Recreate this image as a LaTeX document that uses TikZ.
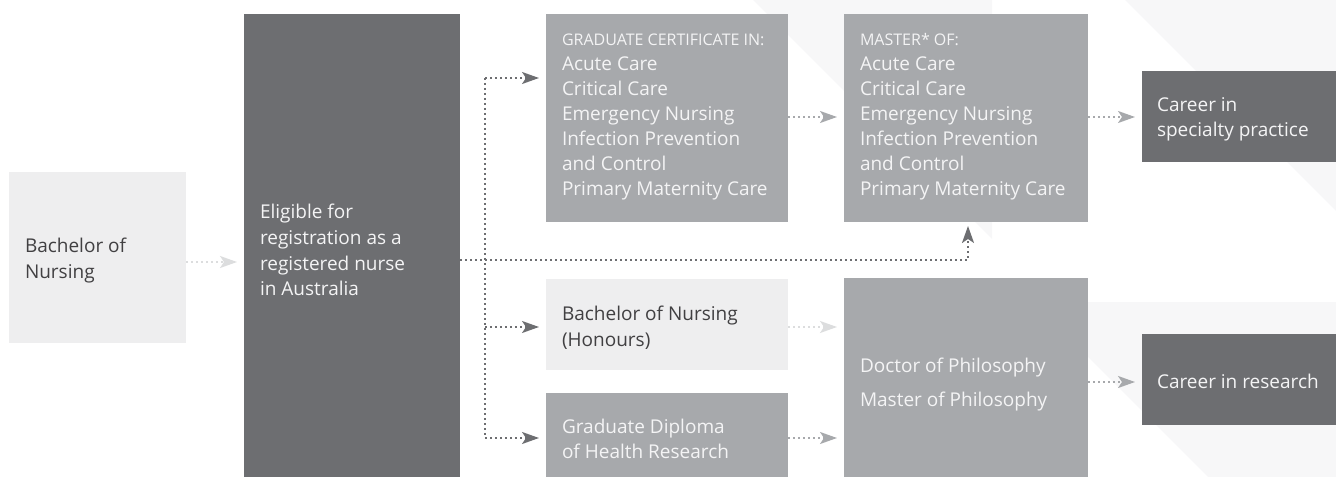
\documentclass[tikz,border=0pt]{standalone}
\usepackage{fontspec}
\setmainfont{Open Sans}
\usetikzlibrary{arrows.meta}
\definecolor{dkbox}{HTML}{6D6E71}
\definecolor{mdbox}{HTML}{A7A9AC}
\definecolor{ltbox}{HTML}{EEEEEF}
\definecolor{bgshape}{HTML}{F7F7F8}
\definecolor{dktext}{HTML}{414042}
\definecolor{lttext}{HTML}{F4F4F5}
\definecolor{ltarrow}{HTML}{DCDDDE}
\newcommand{\lns}[2]{\vtop{\baselineskip=#1bp\lineskiplimit=-100bp\relax #2}}
\tikzset{
  bx/.style={draw=none, inner sep=0pt, outer sep=0pt, anchor=north west},
  tx/.style={inner sep=0pt, outer sep=0pt, anchor=base west, font=\fontsize{19bp}{25bp}\selectfont},
  hd/.style={inner sep=0pt, outer sep=0pt, anchor=base west, font=\fontsize{16bp}{18bp}\selectfont},
  conn/.style={line width=1.9bp, dash pattern=on 1.9bp off 3.1bp},
  arr/.style={conn, -{Stealth[length=17bp,width=12bp,inset=4bp]}, shorten >=7bp}
}
\begin{document}
\begin{tikzpicture}[x=1bp,y=-1bp]
\useasboundingbox (0,0) rectangle (1336,477);
% faint background shapes
\fill[bgshape] (753,0) -- (992,0) -- (992,239) -- cycle;
\fill[bgshape] (1125,0) -- (1336,0) -- (1336,211) -- cycle;
\fill[bgshape] (1088,302) -- (1336,302) -- (1336,477) -- (1208,477) -- (1088,357) -- cycle;

% boxes
\node[bx, fill=ltbox, minimum width=177bp, minimum height=171bp] (bon) at (9,172) {};
\node[bx, fill=dkbox, minimum width=216bp, minimum height=463bp] (elig) at (244,14) {};
\node[bx, fill=mdbox, minimum width=242bp, minimum height=208bp] (gc) at (546,14) {};
\node[bx, fill=mdbox, minimum width=244bp, minimum height=208bp] (ms) at (844,14) {};
\node[bx, fill=dkbox, minimum width=194bp, minimum height=91bp] (csp) at (1142,71) {};
\node[bx, fill=ltbox, minimum width=242bp, minimum height=91bp] (hon) at (546,279) {};
\node[bx, fill=mdbox, minimum width=242bp, minimum height=84bp] (gd) at (546,393) {};
\node[bx, fill=mdbox, minimum width=244bp, minimum height=199bp] (phd) at (844,278) {};
\node[bx, fill=dkbox, minimum width=194bp, minimum height=91bp] (cre) at (1142,334) {};

% texts
\node[tx, text=dktext] (bont) at (25,253) {\lns{25}{\hbox{Bachelor of}\hbox{Nursing}}};
\node[tx, text=lttext] (eligt) at (260,219) {\lns{25.5}{\hbox{Eligible for}\hbox{registration as a}\hbox{registered nurse}\hbox{in Australia}}};
\node[hd, text=lttext] (gch) at (562,46) {GRADUATE CERTIFICATE IN:};
\node[tx, text=lttext] (gct) at (562,71) {\lns{25}{\hbox{Acute Care}\hbox{Critical Care}\hbox{Emergency Nursing}\hbox{Infection Prevention}\hbox{and Control}\hbox{Primary Maternity Care}}};
\node[hd, text=lttext] (msh) at (860,46) {MASTER* OF:};
\node[tx, text=lttext] (mst) at (860,71) {\lns{25}{\hbox{Acute Care}\hbox{Critical Care}\hbox{Emergency Nursing}\hbox{Infection Prevention}\hbox{and Control}\hbox{Primary Maternity Care}}};
\node[tx, text=lttext] (cspt) at (1157,112) {\lns{25}{\hbox{Career in}\hbox{specialty practice}}};
\node[tx, text=dktext] (hont) at (562,320) {\lns{26}{\hbox{Bachelor of Nursing}\hbox{(Honours)}}};
\node[tx, text=lttext] (gdt) at (562,433) {\lns{25}{\hbox{Graduate Diploma}\hbox{of Health Research}}};
\node[tx, text=lttext] (phdt) at (860,372) {\lns{34}{\hbox{Doctor of Philosophy}\hbox{Master of Philosophy}}};
\node[tx, text=lttext] (cret) at (1157,388) {Career in research};

% connector coordinates
\coordinate (yb) at (0,262);
\coordinate (y1) at (0,117);
\coordinate (y2) at (0,327);
\coordinate (y3) at (0,438);
\coordinate (y4) at (0,382);
\coordinate (j1) at (485,78);
\coordinate (j2) at (485,327);
\coordinate (j3) at (485,438);
\coordinate (jm) at (968,260);

% connectors
\draw[arr, ltarrow] (bon.east |- yb) -- (elig.west |- yb);
\draw[conn, dkbox] (j1) -- (j3);
\draw[arr, dkbox] (j1) -- (gc.west |- j1);
\draw[arr, dkbox] (j2) -- (hon.west |- j2);
\draw[arr, dkbox] (j3) -- (gd.west |- j3);
\draw[arr, dkbox, shorten >=4bp] (elig.east |- jm) -- (jm) -- (ms.south -| jm);
\draw[arr, mdbox] (gc.east |- y1) -- (ms.west |- y1);
\draw[arr, mdbox] (ms.east |- y1) -- (csp.west |- y1);
\draw[arr, ltarrow] (hon.east |- y2) -- (phd.west |- y2);
\draw[arr, mdbox] (gd.east |- y3) -- (phd.west |- y3);
\draw[arr, mdbox] (phd.east |- y4) -- (cre.west |- y4);
\end{tikzpicture}
\end{document}
